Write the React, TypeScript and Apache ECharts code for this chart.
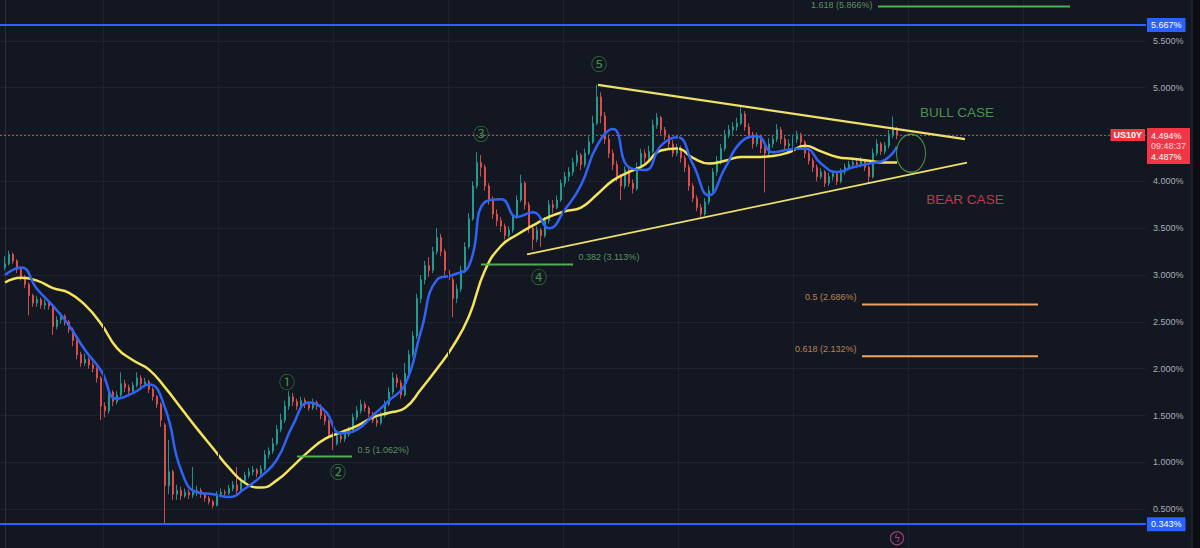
import { useEffect, useRef } from "react";
import * as echarts from "echarts";

// ---------- DATA ----------
// weekly-ish candles, [open, close, low, high] in % yield
const candles: number[][] = [
  [3.08, 3.12, 3.05, 3.20], [3.12, 3.22, 3.10, 3.26], [3.22, 3.15, 3.12, 3.24], [3.15, 3.06, 3.02, 3.17],
  [3.06, 2.98, 2.94, 3.08], [2.98, 2.90, 2.86, 3.00], [2.90, 2.78, 2.57, 2.92], [2.78, 2.70, 2.66, 2.80],
  [2.70, 2.74, 2.66, 2.78], [2.74, 2.68, 2.64, 2.76], [2.68, 2.70, 2.63, 2.74], [2.70, 2.67, 2.63, 2.73],
  [2.67, 2.45, 2.36, 2.69], [2.45, 2.52, 2.42, 2.56], [2.52, 2.56, 2.48, 2.60], [2.56, 2.50, 2.46, 2.58],
  [2.50, 2.42, 2.38, 2.52], [2.42, 2.30, 2.24, 2.44], [2.30, 2.15, 2.10, 2.32], [2.15, 2.06, 2.02, 2.18],
  [2.06, 2.10, 2.03, 2.16], [2.10, 2.04, 2.00, 2.12], [2.04, 2.00, 1.96, 2.07], [2.00, 1.90, 1.85, 2.02],
  [1.90, 1.60, 1.45, 1.92], [1.60, 1.55, 1.48, 1.64], [1.55, 1.75, 1.52, 1.80], [1.75, 1.65, 1.60, 1.77],
  [1.65, 1.72, 1.62, 1.76], [1.72, 1.84, 1.70, 1.96], [1.84, 1.80, 1.75, 1.88], [1.80, 1.76, 1.72, 1.83],
  [1.76, 1.82, 1.74, 1.86], [1.82, 1.90, 1.80, 1.96], [1.90, 1.84, 1.80, 1.93], [1.84, 1.86, 1.80, 1.90],
  [1.86, 1.78, 1.74, 1.88], [1.78, 1.70, 1.66, 1.80], [1.70, 1.62, 1.58, 1.72], [1.62, 1.45, 1.38, 1.64],
  [1.40, 0.75, 0.34, 1.42], [0.75, 0.90, 0.66, 1.24], [0.90, 0.66, 0.60, 0.92], [0.66, 0.70, 0.60, 0.76],
  [0.70, 0.64, 0.60, 0.74], [0.64, 0.68, 0.62, 0.72], [0.68, 0.65, 0.61, 0.71], [0.65, 0.68, 0.62, 0.95],
  [0.68, 0.70, 0.64, 0.75], [0.70, 0.66, 0.62, 0.73], [0.66, 0.62, 0.58, 0.68], [0.62, 0.58, 0.55, 0.64],
  [0.58, 0.54, 0.51, 0.60], [0.54, 0.66, 0.53, 0.69], [0.66, 0.68, 0.63, 0.72], [0.68, 0.67, 0.63, 0.71],
  [0.67, 0.72, 0.65, 0.76], [0.72, 0.76, 0.69, 0.80], [0.76, 0.70, 0.66, 0.95], [0.70, 0.80, 0.68, 0.84],
  [0.80, 0.86, 0.78, 0.90], [0.86, 0.90, 0.83, 0.94], [0.90, 0.92, 0.86, 0.96], [0.92, 0.88, 0.84, 0.94],
  [0.88, 0.93, 0.85, 0.97], [0.93, 1.08, 0.91, 1.13], [1.08, 1.12, 1.04, 1.16], [1.12, 1.20, 1.09, 1.26],
  [1.20, 1.35, 1.18, 1.40], [1.35, 1.45, 1.32, 1.52], [1.45, 1.60, 1.42, 1.66], [1.60, 1.70, 1.56, 1.76],
  [1.70, 1.65, 1.60, 1.74], [1.65, 1.60, 1.56, 1.68], [1.60, 1.66, 1.57, 1.70], [1.66, 1.62, 1.58, 1.69],
  [1.62, 1.58, 1.55, 1.65], [1.58, 1.64, 1.56, 1.68], [1.64, 1.60, 1.56, 1.66], [1.60, 1.50, 1.46, 1.62],
  [1.50, 1.44, 1.40, 1.53], [1.44, 1.30, 1.26, 1.46], [1.30, 1.20, 1.13, 1.32], [1.20, 1.28, 1.18, 1.32],
  [1.28, 1.25, 1.21, 1.31], [1.25, 1.30, 1.22, 1.33], [1.30, 1.34, 1.27, 1.38], [1.34, 1.48, 1.32, 1.52],
  [1.48, 1.55, 1.45, 1.60], [1.55, 1.62, 1.52, 1.67], [1.62, 1.58, 1.54, 1.65], [1.58, 1.52, 1.48, 1.60],
  [1.52, 1.45, 1.42, 1.54], [1.45, 1.42, 1.38, 1.48], [1.42, 1.50, 1.40, 1.54], [1.50, 1.62, 1.48, 1.66],
  [1.62, 1.75, 1.60, 1.80], [1.75, 1.90, 1.72, 1.96], [1.90, 1.85, 1.80, 1.94], [1.85, 1.72, 1.68, 1.88],
  [1.72, 1.95, 1.70, 2.06], [1.95, 2.15, 1.92, 2.20], [2.15, 2.35, 2.12, 2.40], [2.35, 2.75, 2.32, 2.80],
  [2.75, 2.95, 2.70, 3.00], [2.95, 3.10, 2.90, 3.15], [3.10, 3.05, 2.98, 3.19], [3.05, 3.25, 3.02, 3.30],
  [3.25, 3.40, 3.22, 3.50], [3.40, 3.25, 3.20, 3.44], [3.25, 3.05, 3.00, 3.28], [3.05, 2.95, 2.90, 3.08],
  [2.95, 2.75, 2.55, 2.98], [2.75, 2.85, 2.70, 2.90], [2.85, 3.05, 2.82, 3.10], [3.05, 3.30, 3.02, 3.35],
  [3.30, 3.60, 3.28, 3.66], [3.60, 3.95, 3.58, 4.00], [3.95, 4.20, 3.92, 4.31], [4.20, 4.15, 4.05, 4.28],
  [4.15, 3.95, 3.90, 4.18], [3.95, 3.80, 3.75, 3.98], [3.80, 3.65, 3.60, 3.84], [3.65, 3.58, 3.52, 3.70],
  [3.58, 3.52, 3.46, 3.62], [3.52, 3.42, 3.38, 3.55], [3.42, 3.48, 3.40, 3.52], [3.48, 3.62, 3.45, 3.66],
  [3.62, 3.80, 3.60, 3.85], [3.80, 3.98, 3.78, 4.07], [3.98, 3.75, 3.70, 4.00], [3.75, 3.50, 3.45, 3.78],
  [3.50, 3.38, 3.27, 3.52], [3.38, 3.48, 3.35, 3.52], [3.48, 3.42, 3.30, 3.50], [3.42, 3.58, 3.40, 3.62],
  [3.58, 3.75, 3.55, 3.80], [3.75, 3.72, 3.66, 3.80], [3.72, 3.80, 3.70, 3.85], [3.80, 3.98, 3.78, 4.02],
  [3.98, 4.05, 3.94, 4.10], [4.05, 4.10, 4.00, 4.15], [4.10, 4.20, 4.06, 4.25], [4.20, 4.28, 4.16, 4.33],
  [4.28, 4.18, 4.12, 4.30], [4.18, 4.30, 4.15, 4.35], [4.30, 4.42, 4.28, 4.48], [4.42, 4.62, 4.40, 4.70],
  [4.62, 4.90, 4.60, 5.03], [4.90, 4.70, 4.62, 4.95], [4.70, 4.45, 4.40, 4.74], [4.45, 4.30, 4.25, 4.50],
  [4.30, 4.18, 4.12, 4.34], [4.18, 4.05, 4.00, 4.22], [4.05, 3.95, 3.80, 4.08], [3.95, 4.12, 3.92, 4.16],
  [4.12, 3.98, 3.94, 4.15], [3.98, 3.92, 3.87, 4.02], [3.92, 4.15, 3.90, 4.20], [4.15, 4.30, 4.12, 4.35],
  [4.30, 4.25, 4.20, 4.34], [4.25, 4.32, 4.22, 4.38], [4.32, 4.60, 4.30, 4.66], [4.60, 4.68, 4.56, 4.73],
  [4.68, 4.55, 4.50, 4.70], [4.55, 4.48, 4.44, 4.58], [4.48, 4.40, 4.36, 4.50], [4.40, 4.30, 4.26, 4.44],
  [4.30, 4.35, 4.27, 4.40], [4.35, 4.25, 4.20, 4.38], [4.25, 4.15, 4.10, 4.28], [4.15, 3.95, 3.90, 4.18],
  [3.95, 3.82, 3.78, 3.98], [3.82, 3.72, 3.68, 3.85], [3.72, 3.65, 3.62, 3.76], [3.65, 3.78, 3.63, 3.82],
  [3.78, 3.90, 3.75, 3.95], [3.90, 4.10, 3.88, 4.14], [4.10, 4.22, 4.06, 4.27], [4.22, 4.35, 4.18, 4.40],
  [4.35, 4.50, 4.32, 4.55], [4.50, 4.55, 4.46, 4.60], [4.55, 4.58, 4.50, 4.63], [4.58, 4.62, 4.54, 4.68],
  [4.62, 4.72, 4.60, 4.80], [4.72, 4.58, 4.54, 4.75], [4.58, 4.50, 4.45, 4.62], [4.50, 4.40, 4.35, 4.53],
  [4.40, 4.48, 4.37, 4.52], [4.48, 4.35, 4.30, 4.50], [4.35, 4.30, 3.88, 4.38], [4.30, 4.40, 4.26, 4.46],
  [4.40, 4.45, 4.36, 4.50], [4.45, 4.55, 4.42, 4.61], [4.55, 4.45, 4.40, 4.58], [4.45, 4.38, 4.34, 4.48],
  [4.38, 4.40, 4.33, 4.45], [4.40, 4.45, 4.36, 4.50], [4.45, 4.50, 4.41, 4.54], [4.50, 4.42, 4.38, 4.52],
  [4.42, 4.30, 4.25, 4.44], [4.30, 4.22, 4.18, 4.33], [4.22, 4.15, 4.10, 4.25], [4.15, 4.05, 4.00, 4.18],
  [4.05, 4.10, 4.02, 4.14], [4.10, 3.98, 3.94, 4.12], [3.98, 4.05, 3.95, 4.09], [4.05, 4.08, 4.01, 4.12],
  [4.08, 4.00, 3.96, 4.10], [4.00, 4.10, 3.98, 4.14], [4.10, 4.15, 4.07, 4.19], [4.15, 4.18, 4.12, 4.22],
  [4.18, 4.20, 4.14, 4.24], [4.20, 4.18, 4.14, 4.23], [4.18, 4.22, 4.15, 4.26], [4.22, 4.15, 4.11, 4.24],
  [4.15, 4.05, 3.98, 4.17], [4.05, 4.30, 4.03, 4.35], [4.30, 4.40, 4.27, 4.45], [4.40, 4.32, 4.28, 4.42],
  [4.32, 4.38, 4.29, 4.42], [4.38, 4.50, 4.35, 4.55], [4.50, 4.55, 4.46, 4.69], [4.55, 4.49, 4.45, 4.58],
];

// moving averages sampled every 4 bars (+ last bar)
const maBars: number[] = Array.from({ length: 56 }, (_, k) => k * 4).concat([223]);
const maFast: number[] = [
  3.00, 3.08, 2.85, 2.67, 2.46, 2.20, 1.98, 1.68, 1.74, 1.83, 1.58, 0.92, 0.68, 0.66, 0.63, 0.72,
  0.85, 1.03, 1.40, 1.64, 1.55, 1.31, 1.35, 1.50, 1.66, 1.83, 2.40, 2.95, 3.00, 3.10, 3.78, 3.81,
  3.62, 3.67, 3.50, 3.70, 3.96, 4.38, 4.56, 4.15, 4.12, 4.38, 4.47, 4.18, 3.85, 4.14, 4.42, 4.48,
  4.31, 4.34, 4.35, 4.19, 4.10, 4.15, 4.19, 4.23, 4.37,
];
const maSlow: number[] = [
  2.92, 2.97, 2.94, 2.86, 2.81, 2.68, 2.48, 2.22, 2.09, 1.99, 1.80, 1.58, 1.36, 1.15, 0.94, 0.78,
  0.73, 0.81, 0.96, 1.12, 1.25, 1.32, 1.39, 1.48, 1.53, 1.58, 1.78, 2.00, 2.24, 2.56, 3.05, 3.31,
  3.43, 3.53, 3.62, 3.68, 3.72, 3.86, 4.01, 4.10, 4.18, 4.33, 4.35, 4.25, 4.19, 4.22, 4.26, 4.26,
  4.27, 4.31, 4.38, 4.32, 4.26, 4.24, 4.22, 4.20, 4.20,
];

const symbolName = "US10Y";
const lastPrice = 4.494;
const prevPrice = 4.487;
const clockText = "09:48:37";
const highLevel = 5.667;
const lowLevel = 0.343;

// triangle trendlines [bar, value]
const upperTrend: number[][] = [[148.25, 5.03], [240, 4.45]];
const lowerTrend: number[][] = [[130.5, 3.22], [240.5, 4.2]];

// fibonacci levels
const fibLabels = ["1.618 (5.866%)", "0.382 (3.113%)", "0.5 (1.062%)", "0.5 (2.686%)", "0.618 (2.132%)"];
const fibValues = [5.866, 3.113, 1.062, 2.686, 2.132];
const fibFrom = [218.25, 119, 73, 214.25, 214.25];
const fibTo = [266.25, 142, 86.75, 258.25, 258.25];

// elliott wave labels
const waveTexts = ["①", "②", "③", "④", "⑤"];
const waveAnchors: number[][] = [[70.5, 1.87], [83.25, 0.91], [119, 4.52], [133.5, 2.99], [148.5, 5.26]];

const scenarioTexts = ["BULL CASE", "BEAR CASE"];
const scenarioAnchors: number[][] = [[238, 4.74], [240, 3.81]];
const targetZone = [226.5, 4.3];
const alertAnchor = [223, 0.19];

// vertical time grid (bar positions)
const timeGrid = [24.5, 53.25, 82, 110.75, 139.5, 168.25, 197, 225.75, 254.5];

// ---------- STYLE ----------
const X_MIN = -1.25;
const X_MAX = 285.25;
const BG = "#131722";
const UP = "#26a69a";
const DOWN = "#ef5350";
const GREEN = "#4caf50";
const ORANGE = "#f2a25e";
const RED = "#f23645";
const BLUE = "#2962ff";
const FONT = "Liberation Sans";
const fibColor = [GREEN, GREEN, GREEN, ORANGE, ORANGE];
const fibTextColor = ["#6fb46f", "#6fb46f", "#6fb46f", "#e0a060", "#e0a060"];
const fibSide = ["left", "right", "right", "left", "left"];
const fibDy = [-1.5, -7, -7, -7, -7];

export default function App() {
  const ref = useRef<HTMLDivElement>(null);

  useEffect(() => {
    if (!ref.current) return;
    const chart = echarts.init(ref.current, undefined, { renderer: "svg" });

    const series: any[] = [];

    // vertical grid lines
    series.push({
      type: "line",
      data: [],
      z: 0,
      silent: true,
      markLine: {
        silent: true,
        symbol: ["none", "none"],
        label: { show: false },
        lineStyle: { color: "#1d2130", width: 1, type: "solid" },
        data: timeGrid.map((x) => ({ xAxis: x })),
      },
    });

    series.push({
      type: "candlestick",
      data: candles.map((d, i) => [i, d[0], d[1], d[2], d[3]]),
      encode: { x: 0, y: [1, 2, 3, 4] },
      barWidth: 2,
      z: 2,
      itemStyle: { color: UP, color0: DOWN, borderColor: UP, borderColor0: DOWN, borderWidth: 1, opacity: 0.85 },
      markLine: {
        silent: true,
        symbol: ["none", "none"],
        data: [
          {
            yAxis: highLevel,
            lineStyle: { color: BLUE, width: 2, type: "solid" },
            label: {
              show: true, position: "end", distance: 1, formatter: highLevel.toFixed(3) + "%",
              backgroundColor: BLUE, color: "#ffffff", padding: [3, 4, 2, 4], fontSize: 9, fontFamily: FONT,
            },
          },
          {
            yAxis: lowLevel,
            lineStyle: { color: BLUE, width: 2, type: "solid" },
            label: {
              show: true, position: "end", distance: 1, formatter: lowLevel.toFixed(3) + "%",
              backgroundColor: BLUE, color: "#ffffff", padding: [3, 4, 2, 4], fontSize: 9, fontFamily: FONT,
            },
          },
          {
            yAxis: lastPrice,
            lineStyle: { color: "#e8374a", width: 1, type: [2, 2], opacity: 1 },
            label: { show: false },
          },
        ],
      },
      markPoint: {
        silent: true,
        symbol: "rect",
        symbolSize: 0,
        data: [
          {
            coord: [X_MAX, lastPrice],
            label: {
              show: true, position: "right", distance: 1, offset: [0, 11],
              formatter: `{a|${lastPrice.toFixed(3)}%}\n{b|${clockText}}\n{a|${prevPrice.toFixed(3)}%}`,
              backgroundColor: RED, padding: [2, 4, 2, 4],
              rich: {
                a: { color: "#ffffff", fontSize: 9, fontFamily: FONT, lineHeight: 11 },
                b: { color: "#ffd9dc", fontSize: 9, fontFamily: FONT, lineHeight: 10 },
              },
            },
          },
          {
            coord: [X_MAX, lastPrice],
            label: {
              show: true, position: "left", distance: 1, formatter: symbolName,
              backgroundColor: RED, color: "#ffffff", padding: [2, 3, 1, 3], fontSize: 9, fontWeight: "bold", fontFamily: FONT,
            },
          },
        ],
      },
    });

    series.push({
      type: "line",
      data: maBars.map((b, k) => [b, maSlow[k]]),
      smooth: true,
      showSymbol: false,
      z: 3,
      lineStyle: { color: "#f5e35a", width: 2.5 },
    });
    series.push({
      type: "line",
      data: maBars.map((b, k) => [b, maFast[k]]),
      smooth: true,
      showSymbol: false,
      z: 4,
      lineStyle: { color: "#2f63f5", width: 2.5 },
    });

    series.push({
      type: "line", data: upperTrend, showSymbol: false, z: 5,
      lineStyle: { color: "#f0e06a", width: 2.2 },
    });
    series.push({
      type: "line", data: lowerTrend, showSymbol: false, z: 5,
      lineStyle: { color: "#f0e06a", width: 1.8 },
    });

    fibValues.forEach((v, k) => {
      series.push({
        type: "line",
        data: [[fibFrom[k], v], [fibTo[k], v]],
        showSymbol: false,
        z: 5,
        lineStyle: { color: fibColor[k], width: 2 },
      });
    });

    series.push({
      type: "scatter",
      z: 6,
      symbolSize: 1,
      itemStyle: { color: "rgba(0,0,0,0)" },
      data: fibValues.map((v, k) => ({
        value: [fibSide[k] === "left" ? fibFrom[k] : fibTo[k], v],
        label: {
          show: true,
          position: fibSide[k],
          distance: 5,
          offset: [0, fibDy[k]],
          formatter: fibLabels[k],
          color: fibTextColor[k],
          fontSize: 9,
          fontFamily: FONT,
        },
      })),
    });

    series.push({
      type: "scatter",
      z: 6,
      symbolSize: 1,
      itemStyle: { color: "rgba(0,0,0,0)" },
      data: waveAnchors.map((p, k) => ({
        value: p,
        label: {
          show: true, position: "inside", formatter: waveTexts[k],
          color: GREEN, fontSize: 16, fontFamily: "Noto Sans CJK SC",
        },
      })),
    });

    series.push({
      type: "scatter",
      z: 6,
      symbolSize: 1,
      itemStyle: { color: "rgba(0,0,0,0)" },
      data: scenarioAnchors.map((p, k) => ({
        value: p,
        label: {
          show: true, position: "inside", formatter: scenarioTexts[k],
          color: k === 0 ? "#5fb35f" : "#eb4458", fontSize: 13.5, fontFamily: FONT,
        },
      })),
    });

    series.push({
      type: "scatter",
      z: 6,
      symbol: "path://M0,-1A1,1,0,1,1,0,1A1,1,0,1,1,0,-1Z",
      symbolSize: [29, 38],
      itemStyle: { color: "rgba(0,0,0,0)", borderColor: GREEN, borderWidth: 1.2 },
      data: [targetZone],
    });

    series.push({
      type: "scatter",
      z: 6,
      symbol: "circle",
      symbolSize: 13,
      itemStyle: { color: "rgba(0,0,0,0)", borderColor: "#b5468e", borderWidth: 1.3 },
      data: [{
        value: alertAnchor,
        label: { show: true, position: "inside", formatter: "ϟ", color: "#d0508f", fontSize: 10, fontFamily: "DejaVu Sans" },
      }],
    });

    chart.setOption({
      animation: false,
      backgroundColor: BG,
      grid: { left: 0, right: 54, top: 0, bottom: 0 },
      xAxis: { type: "value", min: X_MIN, max: X_MAX, show: false },
      yAxis: {
        type: "value",
        position: "right",
        min: 0,
        max: 6,
        interval: 0.5,
        axisLine: { show: true, lineStyle: { color: "#2a2e39" } },
        axisTick: { show: false },
        axisLabel: {
          color: "#a9acb5",
          fontSize: 9,
          fontFamily: FONT,
          margin: 7,
          formatter: (v: number) => (v <= 0 || v >= 6 || v === 4.5 ? "" : v.toFixed(3) + "%"),
        },
        splitLine: { lineStyle: { color: "#1d2130" } },
      },
      graphic: [
        { type: "rect", shape: { x: 1192, y: 0, width: 8, height: 562 }, style: { fill: "#0c0e14" }, silent: true },
        { type: "line", shape: { x1: 1192, y1: 0, x2: 1192, y2: 562 }, style: { stroke: "#2a2e39", lineWidth: 1 }, silent: true },
      ],
      series,
    });

    return () => chart.dispose();
  }, []);

  return (
    <div style={{ position: "absolute", left: 0, top: 0, width: 1200, height: 548, overflow: "hidden", background: BG }}>
      <div ref={ref} style={{ position: "absolute", left: 0, top: -6, width: 1200, height: 562 }} />
    </div>
  );
}
